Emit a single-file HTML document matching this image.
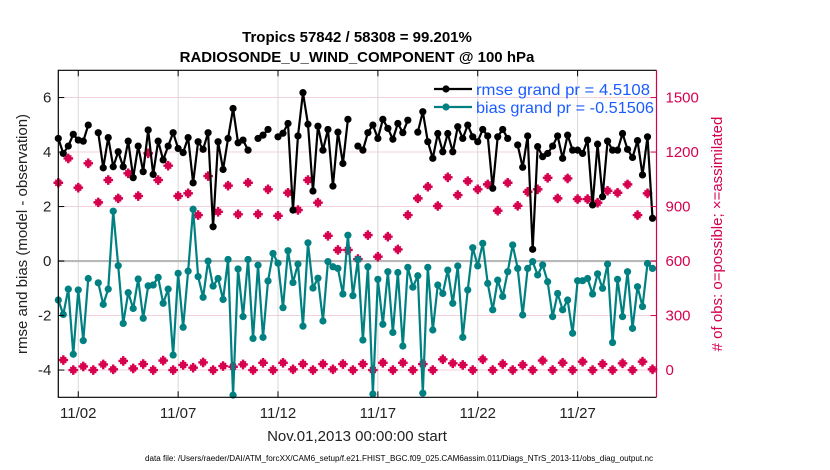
<!DOCTYPE html>
<html><head><meta charset="utf-8"><style>
body{margin:0;background:#fff;}
svg{display:block;font-family:"Liberation Sans",sans-serif;}
</style></head><body>
<svg id="chart" width="830" height="470" viewBox="0 0 830 470">
<rect width="830" height="470" fill="#fff"/>
<g id="grid"></g>
<g id="marks"></g>
<g id="axes"></g>
</svg>
<script>
const rmse=[4.50,3.95,4.22,4.65,4.44,4.40,4.99,null,4.71,3.42,4.53,3.46,4.01,3.46,4.40,3.06,4.22,3.28,4.81,3.18,4.40,3.71,4.22,4.71,4.13,3.98,4.53,2.87,4.38,4.10,4.71,1.26,4.38,3.36,4.50,5.60,4.34,4.44,4.07,null,
4.50,4.62,4.83,null,4.56,4.69,5.05,1.87,4.59,6.18,5.02,2.57,4.95,4.07,4.83,2.75,4.73,3.58,5.20,null,4.22,4.07,4.71,4.99,4.50,5.20,4.87,4.47,5.05,4.71,5.17,null,4.73,5.48,4.38,3.77,4.68,4.01,4.68,
4.01,4.93,4.50,4.99,4.56,4.38,4.83,4.59,2.67,4.56,4.83,4.50,null,4.26,3.44,4.59,0.43,4.20,3.83,3.95,4.22,4.59,3.77,4.62,4.07,4.07,3.95,4.44,2.06,4.29,2.36,4.40,4.07,4.07,4.68,4.10,3.80,4.42,3.16,4.56,1.57];
const bias=[-1.43,-1.96,-1.03,-3.42,-1.06,-2.92,-0.64,null,-0.80,-1.59,-1.03,1.83,-0.17,-2.29,-1.16,-1.74,-0.66,-2.10,-0.91,-0.88,-0.60,-1.55,-1.03,-3.45,-0.45,-2.43,-0.37,1.90,-0.57,-1.33,0.00,-0.92,-0.64,-1.41,0.06,-4.92,-0.29,-2.04,0.06,-2.84,
-0.15,-2.80,-0.73,0.28,-0.08,-1.71,0.38,-0.79,-0.11,-2.39,0.67,-0.99,-0.63,-2.20,-0.02,-0.21,-0.27,-1.21,0.95,-1.27,0.06,-2.90,-0.21,-4.88,-0.67,-2.32,-0.39,-2.62,-0.42,-3.12,-0.23,-0.96,-0.54,-4.85,-0.23,-2.53,-0.88,-1.19,
-0.33,-1.55,-0.18,-2.80,-1.06,0.49,-0.18,0.65,-0.82,-1.79,-0.70,-1.30,-0.39,0.59,-0.27,-1.98,-0.27,-0.02,-0.51,-0.14,-0.76,-2.04,-1.19,-1.79,-1.43,-2.65,-0.72,-0.72,-0.64,-1.21,-0.47,-1.00,-0.11,-2.99,-0.67,-2.04,-0.39,-2.47,-0.94,-1.67,-0.09,-0.27];
const obsPossible=[1031,55,1165,0,1004,20,1138,0,923,31,1046,4,945,50,1083,9,958,33,1193,0,1046,52,1125,0,958,28,973,13,853,42,1068,0,871,22,1015,18,857,31,1031,0,
858,40,995,0,849,40,976,4,881,33,1046,0,921,33,739,4,661,33,661,0,611,33,743,0,624,40,734,0,664,40,853,0,945,33,1009,0,903,59,1061,37,963,28,1040,0,995,59,1022,0,877,33,1031,0,904,28,981,0,995,52,1058,0,945,40,1055,0,941,46,941,0,921,33,987,0,976,37,1022,0,853,46,973,4];
const obsAssim=obsPossible.slice();
const xTickLabels=["11/02","11/07","11/12","11/17","11/22","11/27"];
const xTickDays=[1,6,11,16,21,26];
const yLeftTicks=[-4,-2,0,2,4,6];
const yRightTicks=[0,300,600,900,1200,1500];

const NS="http://www.w3.org/2000/svg";
const PL=58.3,PR=656.5,PT=70.3,PB=397.3;
const XMIN=0,XMAX=29.95,YMIN=-5,YMAX=7;
function xs(d){return PL+(d-XMIN)/(XMAX-XMIN)*(PR-PL);}
function ys(v){return PB-(v-YMIN)/(YMAX-YMIN)*(PB-PT);}
function yr(c){return ys(c/150-4);}
function mk(tag,attrs,parent){const e=document.createElementNS(NS,tag);for(const k in attrs)e.setAttribute(k,attrs[k]);parent.appendChild(e);return e;}
const grid=document.getElementById('grid'),marks=document.getElementById('marks'),axes=document.getElementById('axes');

yLeftTicks.forEach(v=>{const l=mk('line',{x1:PL,x2:PR,y1:ys(v),y2:ys(v),stroke:'#f2d0de','stroke-width':1},grid);

});
xTickDays.forEach(d=>{const l=mk('line',{x1:xs(d),x2:xs(d),y1:PT,y2:PB,stroke:'#d8d8d8','stroke-width':1},grid);

});
const zl=mk('line',{x1:PL,x2:PR,y1:ys(0),y2:ys(0),stroke:'#b8b8b8','stroke-width':2.2},grid);



function obsMark(x,y,col,name){
 const g=mk('g',{},marks);
 
 
 mk('circle',{cx:x,cy:y,r:3.5,fill:col},g);
 mk('path',{d:`M${x-4.8},${y}H${x+4.8}M${x},${y-4.8}V${y+4.8}`,stroke:col,'stroke-width':2.4},g);
}
obsPossible.forEach((c,i)=>{obsMark(xs(i/4),yr(c),'#d6004f','obs-possible-point');});
obsAssim.forEach((c,i)=>{const p=mk('path',{d:`M${xs(i/4)-3},${yr(c)-3}L${xs(i/4)+3},${yr(c)+3}M${xs(i/4)-3},${yr(c)+3}L${xs(i/4)+3},${yr(c)-3}`,stroke:'#d6004f','stroke-width':1.4},marks);

});

function series(arr,col,name){
 let d='',pen=false;
 arr.forEach((v,i)=>{if(v===null){pen=false;return;}d+=(pen?'L':'M')+xs(i/4).toFixed(2)+','+ys(v).toFixed(2);pen=true;});
 const p=mk('path',{d:d,fill:'none',stroke:col,'stroke-width':2.2,'stroke-linejoin':'round'},marks);
 
 
 arr.forEach((v,i)=>{if(v===null)return;const c=mk('circle',{cx:xs(i/4),cy:ys(v),r:3.6,fill:col},marks);
 
 });
}
series(bias,'#008080','bias');
series(rmse,'#000000','rmse');

const fr=mk('path',{d:`M${PR},${PT}H${PL}V${PB}H${PR}`,fill:'none',stroke:'#000','stroke-width':1.2},axes);


const ra=mk('line',{x1:PR,x2:PR,y1:PT,y2:PB,stroke:'#d6004f','stroke-width':1.2},axes);


yLeftTicks.forEach(v=>{mk('line',{x1:PL,x2:PL+6,y1:ys(v),y2:ys(v),stroke:'#000'},axes);
 const t=mk('text',{x:PL-7,y:ys(v)+5,'text-anchor':'end','font-size':15,fill:'#222'},axes);t.textContent=v;
 
 });
yRightTicks.forEach(v=>{mk('line',{x1:PR-6,x2:PR,y1:yr(v),y2:yr(v),stroke:'#d6004f'},axes);
 const t=mk('text',{x:PR+9,y:yr(v)+5,'font-size':15,fill:'#d6004f'},axes);t.textContent=v;
 
 });
xTickDays.forEach((d,k)=>{mk('line',{x1:xs(d),x2:xs(d),y1:PB,y2:PB-6,stroke:'#000'},axes);mk('line',{x1:xs(d),x2:xs(d),y1:PT,y2:PT+6,stroke:'#000'},axes);
 const t=mk('text',{x:xs(d),y:418,'text-anchor':'middle','font-size':15,fill:'#222'},axes);t.textContent=xTickLabels[k];
 
 });
</script>
<svg style="position:absolute;left:0;top:0" width="830" height="470">
<text x="357" y="42" text-anchor="middle" font-size="15" font-weight="bold" fill="#000">Tropics 57842 / 58308 = 99.201%</text>
<text x="357" y="62" text-anchor="middle" font-size="15" font-weight="bold" fill="#000">RADIOSONDE_U_WIND_COMPONENT @ 100 hPa</text>
<text transform="translate(27,234) rotate(-90)" text-anchor="middle" font-size="15" fill="#222">rmse and bias (model - observation)</text>
<text transform="translate(722,234) rotate(-90)" text-anchor="middle" font-size="15" fill="#d6004f"># of obs: o=possible; ×=assimilated</text>
<text x="357" y="441" text-anchor="middle" font-size="15" fill="#222">Nov.01,2013 00:00:00 start</text>
<text x="399" y="461" text-anchor="middle" font-size="8" textLength="508" lengthAdjust="spacingAndGlyphs" fill="#000">data file: /Users/raeder/DAI/ATM_forcXX/CAM6_setup/f.e21.FHIST_BGC.f09_025.CAM6assim.011/Diags_NTrS_2013-11/obs_diag_output.nc</text>
<g>
<g>
<line x1="434" x2="472" y1="89" y2="89" stroke="#000" stroke-width="2.2"/><circle cx="446" cy="89" r="3.6" fill="#000"/>
<text x="476" y="95" font-size="16" textLength="174" lengthAdjust="spacingAndGlyphs" fill="#1a5cff">rmse grand pr = 4.5108</text></g>
<g>
<line x1="434" x2="472" y1="107" y2="107" stroke="#008080" stroke-width="2.2"/><circle cx="446" cy="107" r="3.6" fill="#008080"/>
<text x="476" y="113" font-size="16" textLength="178" lengthAdjust="spacingAndGlyphs" fill="#1a5cff">bias grand pr = -0.51506</text></g>
</g>
</svg>
</body></html>
